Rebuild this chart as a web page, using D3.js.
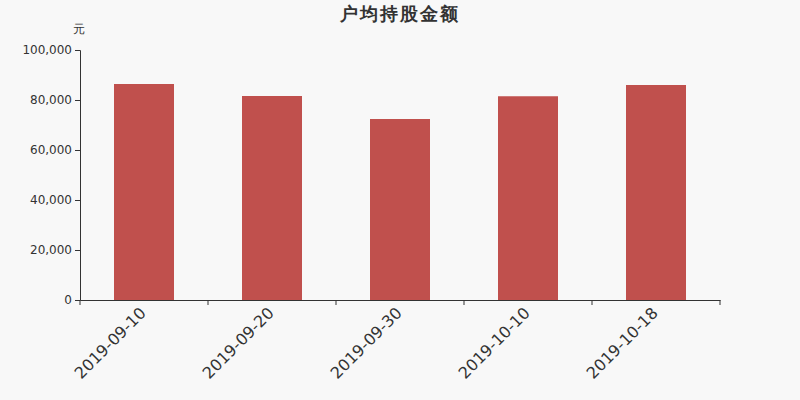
<!DOCTYPE html>
<html>
<head>
<meta charset="utf-8">
<script src="https://cdn.jsdelivr.net/npm/d3@7"></script>
<style>
  body { margin: 0; background: #f8f8f8; }
  svg { display: block; font-family: "DejaVu Sans", sans-serif; }
</style>
</head>
<body>
<div id="main-chart"></div>
<script>
// data
let dates = ['2019-09-10', '2019-09-20', '2019-09-30', '2019-10-10', '2019-10-18'];
let amounts = [86400, 81600, 72400, 81500, 86000];
let yTicks = [0, 20000, 40000, 60000, 80000, 100000];

let margin = {left:80, top:50, bottom:100, right:80},
width = 800 - margin.left - margin.right,
height = 400 - margin.top - margin.bottom;

let x = d3.scaleBand()
          .domain(dates)
          .range([0, width]);

let y = d3.scaleLinear()
          .domain([0, 100000])
          .range([height, 0]);

let svg = d3.select('#main-chart')
            .append('svg')
            .attr('width', 800)
            .attr('height', 400)
            .style('background', '#f8f8f8');

// title and unit
svg.append('text')
   .attr('x', 400)
   .attr('y', 20)
   .attr('text-anchor', 'middle')
   .style('font-size', '18px')
   .style('font-weight', 'bold')
   .style('letter-spacing', '2px')
   .style('fill', '#333')
   .text('户均持股金额');

svg.append('text')
   .attr('x', 79)
   .attr('y', 33)
   .attr('text-anchor', 'middle')
   .style('font-size', '12px')
   .style('fill', '#333')
   .text('元');

let g = svg.append('g')
           .attr('transform', `translate(${margin.left}, ${margin.top})`);

// bars
let barW = 60;
g.selectAll('.bar')
 .data(dates.map((d, i) => ({date: d, value: amounts[i]})))
 .join('rect')
 .attr('class', 'bar')
 .attr('x', d => x(d.date) + (x.bandwidth() - barW) / 2)
 .attr('y', d => y(d.value))
 .attr('width', barW)
 .attr('height', d => height - y(d.value))
 .style('fill', '#c0504d');

// y axis
let yAxis = g.append('g')
             .call(d3.axisLeft(y)
                     .tickValues(yTicks)
                     .tickFormat(d3.format(','))
                     .tickSize(5)
                     .tickPadding(3));
yAxis.selectAll('path, line').attr('stroke', '#333');
yAxis.selectAll('text')
     .style('font-size', '12px')
     .style('fill', '#333')
     .style('font-family', '"DejaVu Sans", sans-serif');

// x axis, ticks on band edges
let xAxis = g.append('g')
             .attr('transform', `translate(0,${height})`)
             .call(d3.axisBottom(x).tickSize(0).tickSizeOuter(0).tickPadding(0));
xAxis.select('path').attr('stroke', '#333');
xAxis.selectAll('text')
     .attr('x', 0)
     .attr('y', 0)
     .attr('dy', 0)
     .attr('transform', 'translate(3,14) rotate(-45)')
     .attr('text-anchor', 'end')
     .style('font-size', '16px')
     .style('fill', '#333')
     .style('font-family', '"DejaVu Sans", sans-serif');

g.append('g')
 .selectAll('line')
 .data(dates.map(d => x(d)).concat([width]))
 .join('line')
 .attr('x1', d => d)
 .attr('x2', d => d)
 .attr('y1', height)
 .attr('y2', height + 5)
 .attr('stroke', '#333');
</script>
</body>
</html>
